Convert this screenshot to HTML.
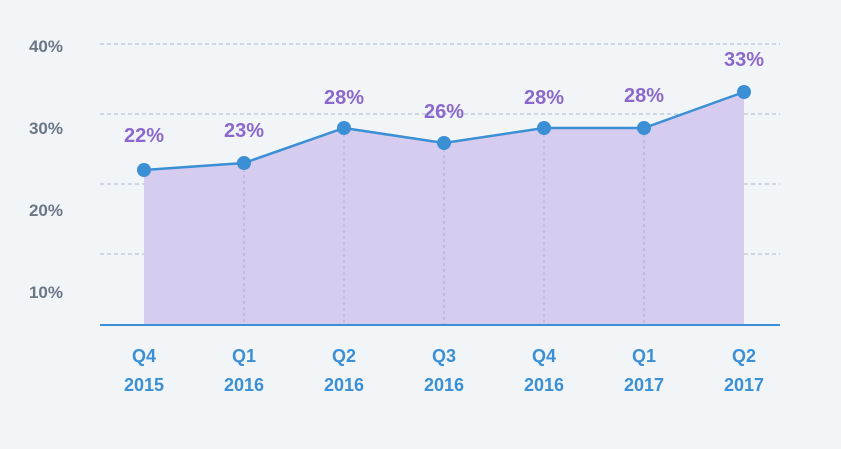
<!DOCTYPE html>
<html><head><style>
html,body{margin:0;padding:0;background:#f2f5f8;}
svg{display:block}
</style></head><body>
<svg width="841" height="449" xmlns="http://www.w3.org/2000/svg" font-family="Liberation Sans, sans-serif">
<rect width="841" height="449" fill="#f2f5f8"/>
<g stroke="#b9c3d6" stroke-width="1.3" stroke-dasharray="4,3">
<line x1="100" y1="44" x2="780" y2="44"/>
<line x1="100" y1="114" x2="780" y2="114"/>
<line x1="100" y1="184" x2="780" y2="184"/>
<line x1="100" y1="254" x2="780" y2="254"/>
</g>
<polygon points="144,170 244,163 344,128 444,143 544,128 644,128 744,92 744,325 144,325" fill="#d6ccef"/>
<g stroke="#b5a6e0" stroke-width="1" stroke-dasharray="3,3">
<line x1="244" y1="163" x2="244" y2="325"/>
<line x1="344" y1="128" x2="344" y2="325"/>
<line x1="444" y1="143" x2="444" y2="325"/>
<line x1="544" y1="128" x2="544" y2="325"/>
<line x1="644" y1="128" x2="644" y2="325"/>
</g>
<line x1="100" y1="325" x2="780" y2="325" stroke="#3b8fd4" stroke-width="2"/>
<polyline points="144,170 244,163 344,128 444,143 544,128 644,128 744,92" fill="none" stroke="#3b8fd4" stroke-width="2.5"/>
<g fill="#3b8fd4">
<circle cx="144" cy="170" r="7"/><circle cx="244" cy="163" r="7"/><circle cx="344" cy="128" r="7"/><circle cx="444" cy="143" r="7"/><circle cx="544" cy="128" r="7"/><circle cx="644" cy="128" r="7"/><circle cx="744" cy="92" r="7"/>
</g>
<g fill="#8b68cc" font-size="20" font-weight="bold" text-anchor="middle">
<text x="144" y="142">22%</text><text x="244" y="137">23%</text><text x="344" y="104">28%</text><text x="444" y="118">26%</text><text x="544" y="104">28%</text><text x="644" y="102">28%</text><text x="744" y="66">33%</text>
</g>
<g fill="#6b7686" font-size="17" font-weight="bold" text-anchor="end">
<text x="63" y="52">40%</text><text x="63" y="134">30%</text><text x="63" y="216">20%</text><text x="63" y="298">10%</text>
</g>
<g fill="#3b8fd4" font-size="18" font-weight="bold" text-anchor="middle">
<text x="144" y="362">Q4</text><text x="144" y="391">2015</text>
<text x="244" y="362">Q1</text><text x="244" y="391">2016</text>
<text x="344" y="362">Q2</text><text x="344" y="391">2016</text>
<text x="444" y="362">Q3</text><text x="444" y="391">2016</text>
<text x="544" y="362">Q4</text><text x="544" y="391">2016</text>
<text x="644" y="362">Q1</text><text x="644" y="391">2017</text>
<text x="744" y="362">Q2</text><text x="744" y="391">2017</text>
</g>
</svg>
</body></html>
